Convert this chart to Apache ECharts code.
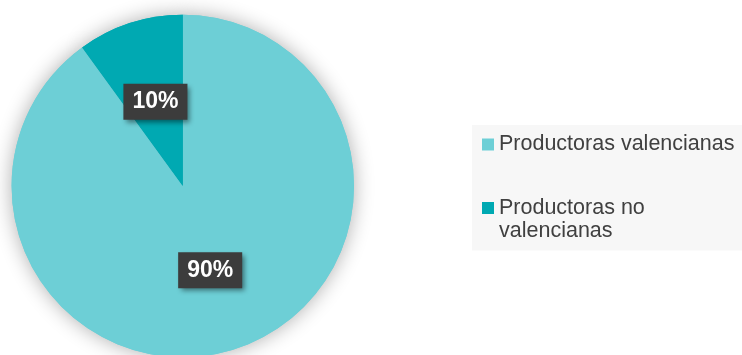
<!DOCTYPE html>
<html>
<head>
<meta charset="utf-8">
<script src="https://cdn.jsdelivr.net/npm/echarts@6/dist/echarts.min.js"></script>
<style>
html,body{margin:0;padding:0;background:#ffffff;}
#chart{width:742px;height:355px;}
</style>
</head>
<body>
<div id="chart"></div>
<script>
const categories = ['Productoras valencianas', 'Productoras no valencianas'];
const values = [90, 10];
const colors = ['#6dcfd6', '#00a9b2'];

const pieData = categories.map((c, i) => ({ name: c, value: values[i], itemStyle: { color: colors[i] } }));

const chart = echarts.init(document.getElementById('chart'), null, { renderer: 'canvas' });
chart.setOption({
  animation: false,
  backgroundColor: '#ffffff',
  legend: {
    orient: 'vertical',
    left: 472,
    top: 125,
    backgroundColor: '#f7f7f7',
    padding: [8, 12, 8, 10],
    itemWidth: 12,
    itemHeight: 12,
    itemGap: 17.5,
    icon: 'rect',
    formatter: name => (name === categories[1] ? '{e| }\n' : '') + name,
    textStyle: {
      fontFamily: 'Liberation Sans, Arial, sans-serif',
      fontSize: 21.5,
      lineHeight: 23,
      color: '#404040',
      width: 240,
      overflow: 'break',
      rich: {
        e: { fontSize: 21.5, lineHeight: 23 }
      }
    },
    data: categories
  },
  series: [
    {
      type: 'pie',
      silent: true,
      z: 1,
      center: [182.8, 186],
      radius: 171.2,
      startAngle: 90,
      clockwise: true,
      label: { show: false },
      labelLine: { show: false },
      itemStyle: { shadowBlur: 20, shadowColor: 'rgba(0,0,0,0.32)' },
      data: pieData
    },
    {
      type: 'pie',
      z: 2,
      center: [182.8, 186],
      radius: 171.2,
      startAngle: 90,
      clockwise: true,
      itemStyle: { borderWidth: 0 },
      label: {
        show: true,
        position: 'inside',
        formatter: p => Math.round(p.percent) + '%',
        fontFamily: 'Liberation Sans, Arial, sans-serif',
        fontSize: 23,
        fontWeight: 'bold',
        lineHeight: 26,
        color: '#ffffff',
        backgroundColor: '#3c3c3c',
        padding: [5, 9],
        shadowColor: 'rgba(0,0,0,0.45)',
        shadowBlur: 5,
        shadowOffsetX: 3,
        shadowOffsetY: 3
      },
      labelLine: { show: false },
      emphasis: { disabled: true },
      data: pieData
    }
  ]
});
</script>
</body>
</html>
